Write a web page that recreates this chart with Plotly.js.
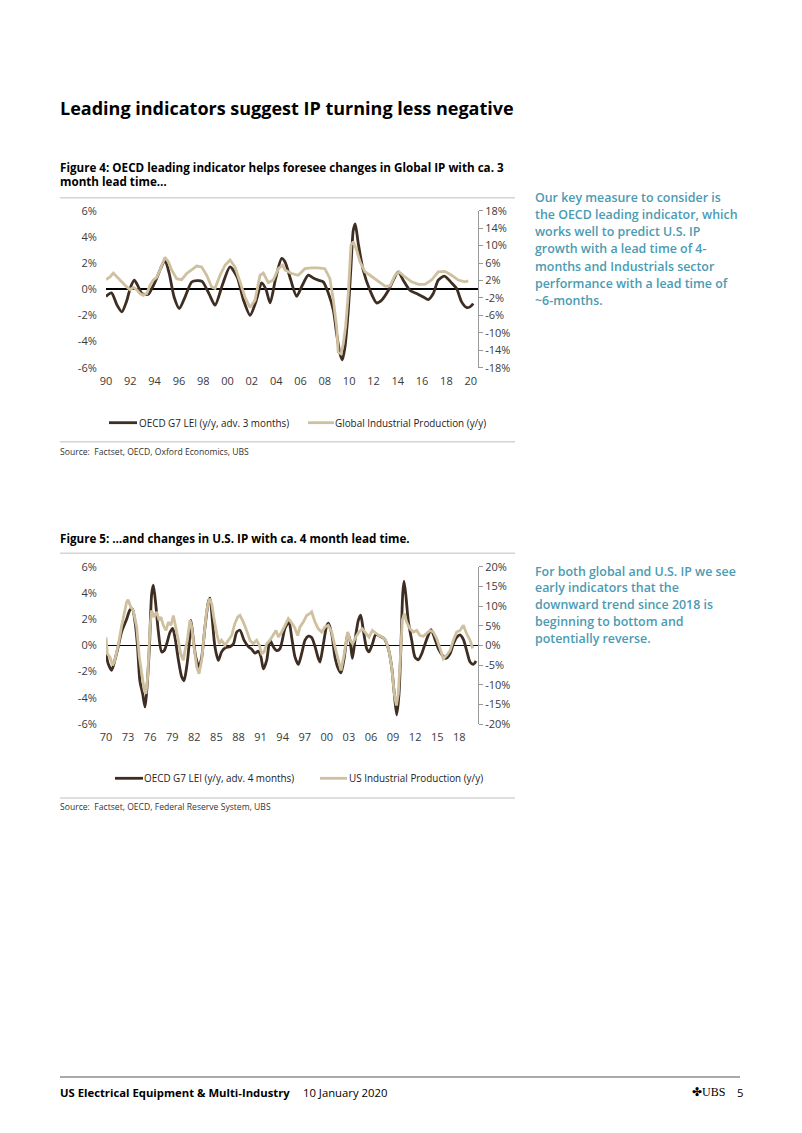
<!DOCTYPE html>
<html><head><meta charset="utf-8">
<script src="https://cdn.plot.ly/plotly-3.0.1.min.js"></script>
<style>html,body{margin:0;padding:0;background:#fff;}#page{width:802px;height:1133px;}</style>
</head><body><div id="page"></div>
<script>
// ---------- Figure 4 data (decimal years) ----------
const lei1X = [1990.0,1990.45,1990.9,1991.3,1991.7,1992.0,1992.33,1992.65,1992.95,1993.2,1993.5,1993.8,1994.2,1994.5,1994.85,1995.2,1995.6,1996.03,1996.5,1997.05,1997.5,1997.9,1998.5,1998.97,1999.6,2000.2,2000.8,2001.3,2001.85,2002.35,2002.8,2003.15,2003.5,2003.95,2004.45,2004.72,2005.2,2005.68,2006.15,2006.64,2007.05,2007.46,2007.87,2008.3,2008.7,2008.97,2009.24,2009.44,2009.66,2009.93,2010.15,2010.34,2010.5,2010.75,2011.16,2011.71,2012.26,2012.67,2013.22,2013.63,2014.04,2014.45,2015.0,2015.55,2016.1,2016.51,2016.92,2017.33,2017.83,2018.43,2018.84,2019.25,2019.66,2019.94,2020.21];
const lei1Y = [-0.55,-0.28,-1.2,-1.73,-0.9,0.1,0.69,0.2,-0.33,-0.4,-0.38,0.1,0.9,1.6,2.2,1.2,-0.6,-1.48,-0.6,0.55,0.65,0.6,-0.4,-1.22,0.4,1.71,0.9,-0.8,-1.99,-0.9,0.48,0.0,-1.05,0.8,2.35,2.1,0.7,-0.54,0.3,1.07,0.85,0.69,0.56,-0.33,-1.6,-3.4,-4.9,-5.4,-4.4,-1.6,1.7,4.5,5.0,3.5,1.45,-0.08,-1.05,-0.84,-0.1,0.69,1.33,0.69,-0.08,-0.33,-0.59,-0.79,-0.33,0.69,1.0,0.48,0.05,-0.97,-1.4,-1.35,-1.1];
const ip1X = [1990.0,1990.33,1990.6,1990.88,1991.15,1991.56,1991.97,1992.25,1992.52,1992.8,1993.07,1993.35,1993.62,1993.89,1994.17,1994.44,1994.85,1995.13,1995.4,1995.81,1996.22,1996.64,1997.05,1997.46,1997.87,1998.28,1998.69,1998.97,1999.38,1999.79,2000.2,2000.61,2001.02,2001.43,2001.85,2002.26,2002.67,2002.94,2003.35,2003.76,2004.18,2004.53,2004.72,2005.27,2005.82,2006.36,2006.91,2007.46,2008.0,2008.42,2008.7,2008.97,2009.1,2009.33,2009.52,2009.71,2009.93,2010.15,2010.34,2010.62,2010.89,2011.3,2011.71,2012.12,2012.53,2012.95,2013.36,2013.77,2014.1,2014.59,2015.14,2015.69,2016.24,2016.78,2017.33,2017.88,2018.43,2018.98,2019.53,2019.8];
const ip1Y = [2.2,2.8,3.7,3.0,2.1,0.9,-0.1,0.4,-0.1,-1.0,-1.4,-1.0,0.9,2.1,2.7,4.4,7.3,6.3,4.4,2.4,2.2,3.6,4.4,5.3,5.1,3.2,0.5,0.2,3.2,5.5,6.7,5.1,1.7,-1.8,-4.2,-2.5,3.2,3.7,1.5,2.1,4.7,5.5,4.4,3.6,3.2,4.7,4.9,4.9,4.7,2.4,-2.5,-8.6,-14.4,-14.8,-12.5,-8.6,-1.0,10.1,10.9,9.0,6.3,4.0,3.2,2.4,1.7,0.7,0.7,3.2,4.0,2.8,1.7,1.1,1.1,2.1,4.0,4.1,3.2,2.1,1.7,1.9];
const x1Ticks = [1990,1992,1994,1996,1998,2000,2002,2004,2006,2008,2010,2012,2014,2016,2018,2020];
const x1Labels = ["90","92","94","96","98","00","02","04","06","08","10","12","14","16","18","20"];
const yL1Ticks = [-6,-4,-2,0,2,4,6];
const yL1Labels = ["-6%","-4%","-2%","0%","2%","4%","6%"];
const yR1Ticks = [-18,-14,-10,-6,-2,2,6,10,14,18];
const yR1Labels = ["-18%","-14%","-10%","-6%","-2%","2%","6%","10%","14%","18%"];

// ---------- Figure 5 data (decimal years) ----------
const lei2X = [1970.0,1970.3,1970.77,1971.2,1971.7,1972.1,1972.8,1973.26,1973.58,1973.94,1974.26,1974.6,1974.98,1975.3,1975.5,1975.9,1976.2,1976.43,1976.75,1977.1,1977.56,1977.9,1978.24,1978.7,1979.06,1979.37,1979.83,1980.28,1980.6,1980.96,1981.3,1981.55,1981.87,1982.2,1982.64,1983.0,1983.45,1983.9,1984.13,1984.45,1984.8,1985.26,1985.7,1986.17,1986.85,1987.3,1987.75,1988.2,1988.75,1989.34,1989.8,1990.25,1990.7,1991.06,1991.38,1991.83,1992.28,1992.73,1993.19,1993.64,1994.32,1994.85,1995.23,1995.68,1996.13,1996.58,1997.04,1997.49,1997.94,1998.4,1998.85,1999.07,1999.53,1999.98,2000.2,2000.66,2001.11,2001.57,2001.93,2002.38,2002.83,2003.15,2003.47,2003.83,2004.28,2004.6,2004.96,2005.42,2005.73,2006.19,2006.64,2007.23,2007.82,2008.36,2008.81,2009.17,2009.49,2009.81,2010.08,2010.31,2010.49,2010.76,2011.08,2011.53,2011.98,2012.44,2012.89,2013.34,2013.8,2014.16,2014.61,2015.15,2015.7,2016.15,2016.74,2017.19,2017.64,2018.1,2018.55,2019.0,2019.46,2019.91,2020.27];
const lei2Y = [-0.64,-1.4,-1.9,-1.15,0,1.0,2.0,2.7,2.8,1.8,0.1,-2.7,-3.7,-4.7,-3.7,-0.1,3.9,4.6,3.2,1.1,-0.5,-0.4,0.1,1.0,1.3,0.6,-1.1,-2.4,-2.7,-1.65,0.1,1.9,0.4,-0.9,-1.65,-0.9,1.4,3.3,3.6,1.9,-0.1,-1.15,-0.5,-0.2,-0.1,0.1,1.0,1.15,0.4,-0.1,-0.3,-0.6,-0.45,-0.9,-1.8,-1.15,0.4,-0.1,-0.4,-0.25,1.3,1.8,0.6,-0.9,-1.45,-0.64,0.4,0.7,0.6,-0.1,-1.0,-1.27,0.1,1.5,1.7,0.9,-0.9,-1.8,-2.1,-0.9,0.9,0.4,-1.0,0.4,1.9,2.3,1.15,-0.25,-0.5,0.1,0.8,0.7,0.5,-0.25,-1.65,-3.7,-5.3,-3.7,0.1,3.9,4.9,3.7,1.8,0.4,-0.9,-1.1,-0.64,0.1,0.8,1.2,0.6,-0.25,-0.76,-1.0,-0.64,0.1,0.6,0.8,0.45,-0.4,-1.27,-1.45,-1.2];
const ip2X = [1970.0,1970.18,1970.54,1970.9,1971.2,1971.7,1972.1,1972.45,1972.8,1973.0,1973.35,1973.7,1974.17,1974.53,1974.85,1975.2,1975.43,1975.66,1975.98,1976.2,1976.52,1976.88,1977.2,1977.47,1977.79,1978.15,1978.47,1978.83,1979.15,1979.5,1979.83,1980.14,1980.5,1980.73,1981.05,1981.41,1981.64,1981.96,1982.32,1982.64,1983.0,1983.3,1983.68,1984.04,1984.36,1984.67,1985.04,1985.4,1985.7,1986.17,1986.6,1987.07,1987.5,1987.9,1988.2,1988.66,1989.1,1989.56,1990.0,1990.47,1990.83,1991.15,1991.47,1991.83,1992.28,1992.73,1993.1,1993.42,1993.87,1994.32,1994.77,1995.14,1995.59,1996.04,1996.36,1996.81,1997.26,1997.72,1997.94,1998.4,1998.85,1999.3,1999.76,2000.2,2000.66,2001.11,2001.57,2001.93,2002.38,2002.83,2003.15,2003.5,2003.92,2004.37,2004.83,2005.28,2005.73,2006.19,2006.64,2007.09,2007.54,2008.0,2008.45,2008.81,2009.17,2009.45,2009.72,2009.99,2010.26,2010.53,2010.85,2011.3,2011.76,2012.21,2012.66,2013.12,2013.57,2014.02,2014.47,2014.93,2015.38,2015.83,2016.29,2016.74,2017.19,2017.64,2018.1,2018.55,2019.0,2019.46,2019.82];
const ip2Y = [2.0,-2.1,-3.0,-5.1,-3.8,0.4,4.7,8.1,11.0,11.6,9.8,8.9,4.7,-3.0,-7.2,-11.5,-12.3,-8.1,4.7,8.9,7.2,8.5,6.4,7.2,5.1,3.8,5.9,5.1,7.6,4.7,1.3,-2.1,-3.8,-1.3,1.3,6.4,4.7,-0.4,-5.5,-7.2,-3.8,2.1,8.9,11.9,10.6,6.8,3.0,0.4,1.3,0,1.3,2.5,5.5,7.2,7.6,5.9,3.8,1.3,0.4,1.3,0,-2.1,-1.7,0.4,1.3,2.5,3.8,2.1,3.4,5.1,6.8,5.9,4.7,2.5,4.7,5.9,7.6,8.1,8.5,5.9,4.2,3.4,4.7,5.1,3.4,-0.4,-3.8,-6.4,-2.1,3.4,1.3,0.4,2.1,3.4,4.2,3.0,2.1,3.8,3.1,2.5,2.1,1.3,-1.3,-5.5,-12.3,-15.3,-12.3,-2.1,6.4,8.1,5.9,4.2,3.4,3.8,2.5,2.3,3.0,3.8,3.4,1.7,-0.8,-3.4,-2.5,-1.3,1.3,3.4,3.8,5.1,3.0,1.3,-0.8];
const x2Ticks = [1970,1973,1976,1979,1982,1985,1988,1991,1994,1997,2000,2003,2006,2009,2012,2015,2018];
const x2Labels = ["70","73","76","79","82","85","88","91","94","97","00","03","06","09","12","15","18"];
const yL2Ticks = [-6,-4,-2,0,2,4,6];
const yL2Labels = ["-6%","-4%","-2%","0%","2%","4%","6%"];
const yR2Ticks = [-20,-15,-10,-5,0,5,10,15,20];
const yR2Labels = ["-20%","-15%","-10%","-5%","0%","5%","10%","15%","20%"];

// ---------- Text ----------
const pageTitle = "Leading indicators suggest IP turning less negative";
const fig4Caption = ["Figure 4: OECD leading indicator helps foresee changes in Global IP with ca. 3", "month lead time…"];
const fig5Caption = "Figure 5: …and changes in U.S. IP with ca. 4 month lead time.";
const side1 = ["Our key measure to consider is","the OECD leading indicator, which","works well to predict U.S. IP","growth with a lead time of 4-","months and Industrials sector","performance with a lead time of","~6-months."];
const side2 = ["For both global and U.S. IP we see","early indicators that the","downward trend since 2018 is","beginning to bottom and","potentially reverse."];
const legend1 = ["OECD G7 LEI (y/y, adv. 3 months)","Global Industrial Production (y/y)"];
const legend2 = ["OECD G7 LEI (y/y, adv. 4 months)","US Industrial Production (y/y)"];
const source1 = "Source:\u00a0 Factset, OECD, Oxford Economics, UBS";
const source2 = "Source:\u00a0 Factset, OECD, Federal Reserve System, UBS";
const footerLeft = "US Electrical Equipment & Multi-Industry";
const footerDate = "10 January 2020";

// ---------- Styling ----------
const W = 802, H = 1133;
const X = p => p / W, Y = p => 1 - p / H;
const DARK = "#3e2d22", BEIGE = "#cfc09f", TEAL = "#4a9bb3";
const FONT = "Open Sans, Noto Sans, sans-serif";
const tickFont = {family: FONT, size: 11, color: "#3a3a3a"};

const traces = [
  {x: lei1X, y: lei1Y, xaxis: "x", yaxis: "y", mode: "lines", name: legend1[0], line: {color: DARK, width: 2.8, shape: "spline", smoothing: 0.7}},
  {x: ip1X, y: ip1Y, xaxis: "x", yaxis: "y2", mode: "lines", name: legend1[1], line: {color: BEIGE, width: 2.8}},
  {x: lei2X, y: lei2Y, xaxis: "x2", yaxis: "y3", mode: "lines", name: legend2[0], line: {color: DARK, width: 2.8, shape: "spline", smoothing: 0.7}},
  {x: ip2X, y: ip2Y, xaxis: "x2", yaxis: "y4", mode: "lines", name: legend2[1], line: {color: BEIGE, width: 2.8}}
];

const xCommon = {showgrid: false, zeroline: false, showline: false, ticks: "outside", ticklen: 3, tickcolor: "rgba(0,0,0,0)", tickfont: tickFont, fixedrange: true};
const yLeftCommon = {showgrid: false, zeroline: true, zerolinecolor: "#000", zerolinewidth: 1.6, showline: false, ticks: "outside", ticklen: 6, tickcolor: "rgba(0,0,0,0)", tickfont: tickFont};
const yRightCommon = {showgrid: false, zeroline: false, side: "right", showline: true, linecolor: "#9a9a9a", linewidth: 1, ticks: "outside", ticklen: 4, tickcolor: "#9a9a9a", tickfont: tickFont};

const ann = [];
function txt(text, x, y, size, opts) {
  ann.push(Object.assign({text: text, x: X(x), y: Y(y), xref: "paper", yref: "paper", xanchor: "left", yanchor: "middle", showarrow: false,
    font: {family: FONT, size: size, color: "#000"}}, opts || {}));
}
txt("<b>" + pageTitle + "</b>", 58, 108, 18);
txt("<b>" + fig4Caption[0] + "</b>", 58, 167, 11.65);
txt("<b>" + fig4Caption[1] + "</b>", 58, 182, 11.65);
txt("<b>" + fig5Caption + "</b>", 58, 538, 11.65);
side1.forEach((s, i) => txt(s, 533, 197.3 + i * 17.2, 12.4, {font: {family: FONT, size: 12.4, color: TEAL, weight: 600}}));
side2.forEach((s, i) => txt(s, 533, 571 + i * 16.85, 12.4, {font: {family: FONT, size: 12.4, color: TEAL, weight: 600}}));
txt(legend1[0], 137, 422.7, 9.9, {font: {family: FONT, size: 9.9, color: "#222"}});
txt(legend1[1], 333, 422.7, 9.9, {font: {family: FONT, size: 9.9, color: "#222"}});
txt(legend2[0], 142, 778.3, 9.9, {font: {family: FONT, size: 9.9, color: "#222"}});
txt(legend2[1], 347, 778.3, 9.9, {font: {family: FONT, size: 9.9, color: "#222"}});
txt(source1, 58, 451.7, 8.6, {font: {family: FONT, size: 8.6, color: "#333"}});
txt(source2, 58, 807.3, 8.6, {font: {family: FONT, size: 8.6, color: "#333"}});
txt("<b>" + footerLeft + "</b>", 58, 1092, 11.3);
txt(footerDate, 301, 1092, 11.3, {font: {family: FONT, size: 11.3, color: "#000"}});
txt("\u2724UBS", 690, 1092, 12, {font: {family: "Liberation Serif, serif", size: 12, color: "#000"}});
txt("5", 735, 1092, 11.3, {font: {family: FONT, size: 11.3, color: "#000"}});

function hline(x0, x1, y, color, width) {
  return {type: "line", xref: "paper", yref: "paper", x0: X(x0), x1: X(x1), y0: Y(y), y1: Y(y), line: {color: color, width: width}};
}
const shapes = [
  hline(60, 515, 197.7, "#d4d4d4", 1.5),
  hline(60, 515, 441.7, "#d4d4d4", 1.5),
  hline(60, 515, 553.3, "#d4d4d4", 1.5),
  hline(60, 515, 798, "#d4d4d4", 1.5),
  hline(60, 740, 1077, "#555", 1.2),
  hline(109, 137, 422.7, DARK, 2.8),
  hline(308, 334, 422.7, BEIGE, 2.8),
  hline(115, 143, 778.3, DARK, 2.8),
  hline(320, 347, 778.3, BEIGE, 2.8)
];

const layout = {
  width: W, height: H, margin: {l: 0, r: 0, t: 0, b: 0}, showlegend: false,
  paper_bgcolor: "#fff", plot_bgcolor: "rgba(0,0,0,0)", font: {family: FONT},
  xaxis: Object.assign({}, xCommon, {domain: [X(106), X(478)], range: [1990, 2020.6], anchor: "y", tickvals: x1Ticks, ticktext: x1Labels}),
  yaxis: Object.assign({}, yLeftCommon, {domain: [Y(367.7), Y(210.7)], range: [-6, 6], anchor: "x", tickvals: yL1Ticks, ticktext: yL1Labels}),
  yaxis2: Object.assign({}, yRightCommon, {overlaying: "y", anchor: "x", range: [-18, 18], tickvals: yR1Ticks, ticktext: yR1Labels}),
  xaxis2: Object.assign({}, xCommon, {domain: [X(106), X(478)], range: [1970, 2020.54], anchor: "y3", tickvals: x2Ticks, ticktext: x2Labels}),
  yaxis3: Object.assign({}, yLeftCommon, {domain: [Y(724), Y(566.7)], range: [-6, 6], anchor: "x2", tickvals: yL2Ticks, ticktext: yL2Labels}),
  yaxis4: Object.assign({}, yRightCommon, {overlaying: "y3", anchor: "x2", range: [-20, 20], tickvals: yR2Ticks, ticktext: yR2Labels}),
  annotations: ann, shapes: shapes
};
Plotly.newPlot("page", traces, layout, {staticPlot: true, displayModeBar: false});
</script></body></html>
